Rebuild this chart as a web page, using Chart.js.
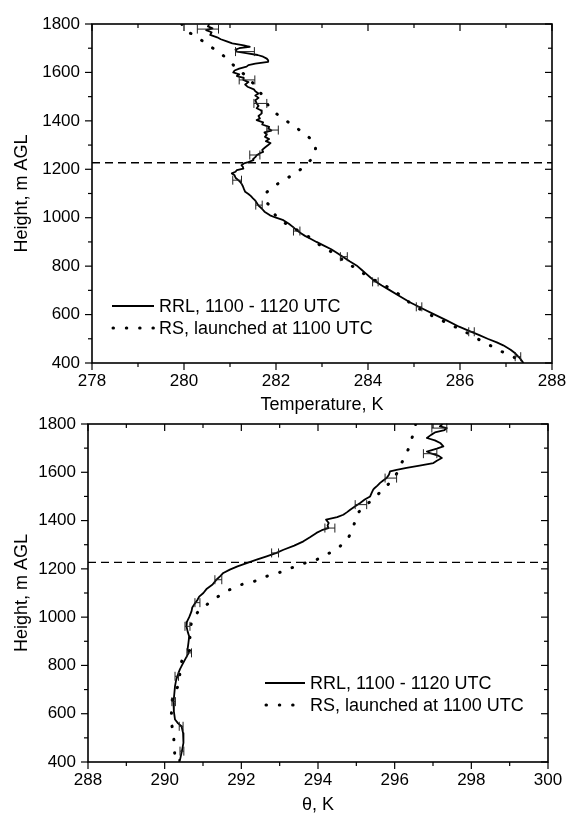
<!DOCTYPE html>
<html><head><meta charset="utf-8">
<script src="https://cdn.jsdelivr.net/npm/chart.js@4.4.0/dist/chart.umd.min.js"></script>
<style>
html,body{margin:0;padding:0;background:#fff;overflow:hidden;width:566px;height:816px}
canvas{position:absolute;left:0}
#c1{top:0}
#c2{top:410px}
</style></head><body>
<canvas id="c1" width="566" height="416"></canvas>
<canvas id="c2" width="566" height="406"></canvas>
<script>
// ---------- DATA: top panel (temperature) ----------
const topRrlHeight = [1800,1790,1782,1775,1766,1755,1745,1737,1728,1720,1712,1706,1700,1694,1686,1680,1672,1665,1657,1650,1644,1636,1630,1624,1616,1608,1600,1592,1585,1578,1569,1560,1550,1541,1530,1522,1513,1505,1495,1485,1472,1462,1452,1443,1431,1420,1410,1403,1394,1385,1375,1369,1360,1352,1343,1334,1325,1316,1308,1300,1290,1280,1272,1266,1258,1250,1242,1238,1230,1224,1217,1210,1203,1197,1190,1183,1175,1165,1155,1148,1141,1130,1120,1107,1098,1090,1080,1073,1062,1050,1038,1025,1010,1000,990,975,960,948,935,925,914,900,886,870,855,838,820,803,785,770,755,742,720,700,675,650,625,600,575,550,535,515,500,485,473,455,440,420,400];
const topRrlTemp = [280.55,280.52,280.62,280.48,280.60,280.57,280.72,280.80,280.93,281.05,281.30,281.43,281.20,281.12,281.15,281.35,281.60,281.72,281.80,281.83,281.83,281.55,281.40,281.36,281.20,281.10,281.07,281.20,281.15,281.30,281.29,281.40,281.33,281.38,281.52,281.55,281.62,281.55,281.62,281.55,281.58,281.62,281.58,281.68,281.69,281.62,281.65,281.58,281.72,281.70,281.85,281.83,281.90,281.75,281.80,281.76,281.85,281.78,281.88,281.83,281.76,281.70,281.72,281.65,281.58,281.55,281.50,281.51,281.40,281.30,281.25,281.28,281.29,281.15,281.12,281.04,281.10,281.12,281.18,281.22,281.25,281.28,281.30,281.33,281.40,281.45,281.50,281.54,281.58,281.62,281.69,281.75,281.87,282.00,282.16,282.28,282.38,282.45,282.55,282.63,282.74,282.88,283.03,283.20,283.32,283.46,283.60,283.75,283.86,283.95,284.04,284.12,284.30,284.48,284.70,284.92,285.18,285.45,285.72,285.98,286.17,286.42,286.60,286.80,286.94,287.10,287.20,287.30,287.38];
const topRsHeight = [1800,1775,1748,1716,1686,1651,1617,1590,1560,1527,1500,1475,1451,1417,1382,1348,1311,1290,1270,1245,1224,1190,1162,1135,1100,1070,1047,1022,1000,975,950,920,886,858,824,797,770,742,712,680,650,620,590,560,530,498,473,448,425,400];
const topRsTemp = [279.95,280.02,280.28,280.49,280.75,280.96,281.15,281.32,281.48,281.62,281.72,281.80,281.87,282.10,282.36,282.61,282.83,282.86,282.84,282.78,282.68,282.47,282.23,282.00,281.78,281.78,281.87,281.95,282.03,282.22,282.45,282.72,282.96,283.21,283.46,283.68,283.90,284.15,284.44,284.70,284.90,285.15,285.45,285.78,286.10,286.40,286.65,286.90,287.16,287.35];
const topErrHeight = [1779,1686,1569,1472,1362,1259,1155,1052,945,839,735,632,529,426];
const topErrLow  = [280.29,281.12,281.20,281.52,281.80,281.43,281.06,281.56,282.38,283.40,284.10,285.05,286.19,287.20];
const topErrHigh = [280.75,281.53,281.54,281.80,282.05,281.65,281.25,281.70,282.52,283.55,284.22,285.17,286.31,287.32];

// ---------- DATA: bottom panel (potential temperature) ----------
const botRrlHeight = [1800,1790,1783,1775,1765,1755,1742,1732,1720,1707,1698,1686,1678,1668,1659,1648,1638,1628,1618,1610,1604,1590,1576,1566,1556,1545,1535,1528,1515,1500,1487,1473,1460,1445,1434,1424,1414,1404,1390,1380,1369,1360,1349,1332,1314,1296,1279,1265,1252,1238,1224,1210,1197,1183,1170,1155,1145,1135,1118,1100,1085,1070,1055,1040,1024,1000,980,962,940,920,893,870,850,824,800,785,769,740,714,680,645,610,576,560,548,520,479,445,409,400];
const botRrlTheta = [297.25,297.18,297.36,297.30,297.05,296.95,296.84,297.05,297.20,297.27,297.10,296.84,296.95,297.15,297.23,297.10,297.01,296.65,296.31,296.05,295.88,295.85,295.79,295.70,295.62,295.55,295.48,295.44,295.40,295.36,295.22,295.10,294.98,294.84,294.75,294.66,294.50,294.21,294.28,294.25,294.27,294.10,293.96,293.80,293.62,293.38,293.10,292.90,292.66,292.40,292.14,291.90,291.70,291.53,291.45,291.35,291.30,291.25,291.10,291.01,290.90,290.85,290.78,290.72,290.70,290.64,290.58,290.57,290.60,290.64,290.62,290.60,290.62,290.53,290.45,290.40,290.36,290.30,290.27,290.25,290.23,290.24,290.27,290.35,290.44,290.48,290.49,290.45,290.40,290.38];
const botRsHeight = [1800,1790,1735,1686,1638,1583,1545,1508,1470,1432,1380,1329,1293,1263,1238,1224,1204,1186,1169,1149,1135,1114,1086,1052,1024,976,920,866,824,770,721,666,617,562,514,459,417,400];
const botRsTheta = [296.55,296.53,296.44,296.33,296.18,296.01,295.80,295.56,295.30,295.05,294.93,294.79,294.57,294.27,293.96,293.66,293.31,293.01,292.66,292.35,292.01,291.70,291.40,291.10,290.88,290.70,290.66,290.66,290.46,290.40,290.36,290.21,290.18,290.18,290.23,290.25,290.27,290.27];
const botErrHeight = [1783,1677,1576,1466,1369,1266,1155,1060,962,852,755,650,548,445];
const botErrLow  = [296.97,296.75,295.75,294.97,294.18,292.79,291.31,290.79,290.53,290.58,290.27,290.19,290.38,290.40];
const botErrHigh = [297.36,297.10,296.05,295.27,294.44,292.97,291.49,290.92,290.66,290.70,290.36,290.28,290.48,290.50];

// ---------- labels ----------
const boundaryHeight = 1227;
const seriesLabels = ['RRL, 1100 - 1120 UTC', 'RS, launched at 1100 UTC'];
const yTitle = 'Height, m AGL';
const topXTitle = 'Temperature, K';
const botXTitle = '\u03B8, K';

const FONT = "'Liberation Sans', Arial, Helvetica, sans-serif";
Chart.defaults.font.family = FONT;
Chart.defaults.color = '#000';

const pts = (xs, ys) => xs.map((v, i) => ({x: v, y: ys[i]}));

// frame + tick marks plugin
const frameTicks = {
  id: 'frameTicks',
  afterDraw(chart) {
    const {ctx, chartArea: a, scales: {x, y}} = chart;
    const ln = (x1, y1, x2, y2) => { ctx.beginPath(); ctx.moveTo(x1, y1); ctx.lineTo(x2, y2); ctx.stroke(); };
    ctx.save();
    ctx.strokeStyle = '#000';
    ctx.lineWidth = 1.2;
    const xs = 1, ys = 100;
    for (let v = x.min; v <= x.max + 1e-9; v += xs) {
      const p = x.getPixelForValue(v);
      const major = Math.abs((v - x.min) / 2 - Math.round((v - x.min) / 2)) < 1e-6;
      const L = major ? 7 : 4;
      ln(p, a.bottom, p, a.bottom + L);
      ln(p, a.top, p, a.top + L);
    }
    for (let v = y.min; v <= y.max + 1e-9; v += ys) {
      const p = y.getPixelForValue(v);
      const major = Math.abs((v - y.min) / 200 - Math.round((v - y.min) / 200)) < 1e-6;
      const L = major ? 7 : 4;
      ln(a.left - L, p, a.left, p);
      ln(a.right - L, p, a.right, p);
    }
    ctx.lineWidth = 1.6;
    ctx.strokeRect(a.left, a.top, a.right - a.left, a.bottom - a.top);
    ctx.restore();
  }
};

// error bars plugin
const errBars = {
  id: 'errBars',
  afterDatasetsDraw(chart, args, o) {
    const {ctx, scales: {x, y}} = chart;
    ctx.save();
    ctx.strokeStyle = '#222';
    ctx.lineWidth = 1;
    o.h.forEach((h, i) => {
      const py = y.getPixelForValue(h);
      const x1 = x.getPixelForValue(o.lo[i]), x2 = x.getPixelForValue(o.hi[i]);
      ctx.beginPath();
      ctx.moveTo(x1, py); ctx.lineTo(x2, py);
      ctx.moveTo(x1, py - 4.5); ctx.lineTo(x1, py + 4.5);
      ctx.moveTo(x2, py - 4.5); ctx.lineTo(x2, py + 4.5);
      ctx.stroke();
    });
    ctx.restore();
  }
};

// inside legend plugin
const insideLegend = {
  id: 'insideLegend',
  afterDraw(chart, args, o) {
    const {ctx, chartArea: a} = chart;
    const ds = chart.data.datasets;
    ctx.save();
    ctx.font = '18px ' + FONT;
    ctx.fillStyle = '#000';
    ctx.textBaseline = 'middle';
    ctx.textAlign = 'left';
    [0, 1].forEach(i => {
      const yy = a.bottom - o.rows[i];
      const x0 = a.left + o.x;
      ctx.strokeStyle = '#000';
      ctx.beginPath();
      if (i === 0) {
        ctx.lineWidth = 1.8; ctx.setLineDash([]);
        ctx.moveTo(x0, yy); ctx.lineTo(x0 + o.w, yy);
      } else {
        ctx.lineWidth = 3; ctx.lineCap = 'round'; ctx.setLineDash([0.5, 12.8]);
        ctx.moveTo(x0 + 1, yy); ctx.lineTo(x0 + o.w, yy);
      }
      ctx.stroke();
      ctx.setLineDash([]); ctx.lineCap = 'butt';
      ctx.fillText(ds[i].label, x0 + o.w + 5, yy + 1);
    });
    ctx.restore();
  }
};

function makeChart(id, cfg) {
  return new Chart(document.getElementById(id), {
    type: 'scatter',
    data: {
      datasets: [
        {label: seriesLabels[0], data: pts(cfg.rrlX, cfg.rrlY), showLine: true, borderColor: '#000', borderWidth: 1.8, pointRadius: 0, tension: 0, borderJoinStyle: 'round'},
        {label: seriesLabels[1], data: pts(cfg.rsX, cfg.rsY), showLine: true, borderColor: '#000', borderWidth: 3, borderDash: [0.5, 12.8], borderCapStyle: 'round', pointRadius: 0, tension: 0.3},
        {label: 'boundary', data: [{x: cfg.xMin, y: boundaryHeight}, {x: cfg.xMax, y: boundaryHeight}], showLine: true, borderColor: '#000', borderWidth: 1.3, borderDash: [8, 5], pointRadius: 0}
      ]
    },
    options: {
      responsive: false,
      animation: false,
      events: [],
      layout: {padding: cfg.pad},
      plugins: {
        legend: {display: false},
        tooltip: {enabled: false},
        errBars: {h: cfg.errH, lo: cfg.errLo, hi: cfg.errHi},
        insideLegend: cfg.legend
      },
      scales: {
        x: {
          type: 'linear', min: cfg.xMin, max: cfg.xMax,
          grid: {display: false, drawTicks: false, tickLength: 0},
          border: {display: false},
          ticks: {stepSize: 2, padding: 8, font: {size: 17}, color: '#000', maxRotation: 0, callback: v => String(v)},
          title: {display: true, text: cfg.xTitle, font: {size: 18}, color: '#000', padding: {top: 0, bottom: 0}},
          afterFit(s) { s.height = cfg.xAxisH; s.paddingLeft = 0; s.paddingRight = 0; }
        },
        y: {
          type: 'linear', min: 400, max: 1800,
          grid: {display: false, drawTicks: false, tickLength: 0},
          border: {display: false},
          ticks: {stepSize: 200, padding: 12, font: {size: 17}, color: '#000', callback: v => String(v)},
          title: {display: true, text: yTitle, font: {size: 18}, color: '#000', padding: {top: cfg.yTitlePad, bottom: 0}},
          afterFit(s) { s.width = cfg.yAxisW; s.paddingTop = 0; s.paddingBottom = 0; }
        }
      }
    },
    plugins: [frameTicks, errBars, insideLegend]
  });
}

makeChart('c1', {
  rrlX: topRrlTemp, rrlY: topRrlHeight, rsX: topRsTemp, rsY: topRsHeight,
  errH: topErrHeight, errLo: topErrLow, errHi: topErrHigh,
  xMin: 278, xMax: 288, xTitle: topXTitle,
  pad: {left: 0, right: 14, top: 24, bottom: 0},
  xAxisH: 53, yAxisW: 92, yTitlePad: 11,
  legend: {x: 20, w: 42, rows: [57, 35]}
});
makeChart('c2', {
  rrlX: botRrlTheta, rrlY: botRrlHeight, rsX: botRsTheta, rsY: botRsHeight,
  errH: botErrHeight, errLo: botErrLow, errHi: botErrHigh,
  xMin: 288, xMax: 300, xTitle: botXTitle,
  pad: {left: 0, right: 18, top: 14, bottom: 0},
  xAxisH: 54, yAxisW: 88, yTitlePad: 11,
  legend: {x: 177, w: 40, rows: [79, 57]}
});
</script>
</body></html>
